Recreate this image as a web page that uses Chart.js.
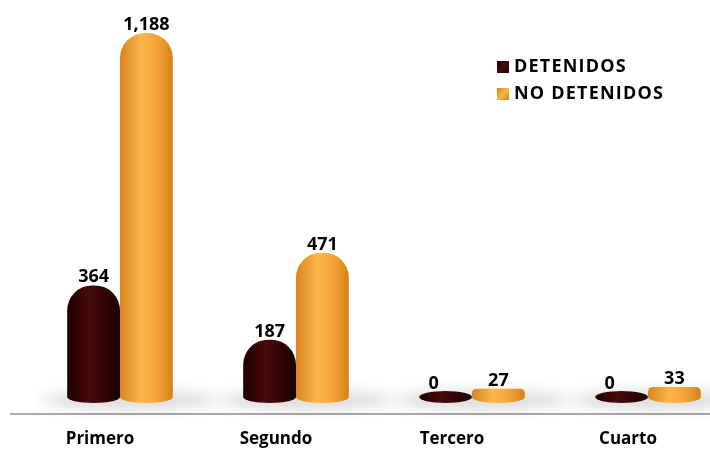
<!DOCTYPE html>
<html>
<head>
<meta charset="utf-8">
<script src="https://cdn.jsdelivr.net/npm/chart.js@4.4.1/dist/chart.umd.min.js"></script>
<style>
  html, body { margin: 0; padding: 0; background: #fff; overflow: hidden; }
  #wrap { position: relative; width: 710px; height: 449px; overflow: hidden; }
  #chart { position: absolute; left: 0; top: 0; }
  #legend { position: absolute; left: 497px; top: 52px; font: bold 18px 'Open Sans', sans-serif; letter-spacing: 1.2px; color: #000; }
  #legend div { height: 27px; line-height: 26px; white-space: nowrap; }
  #legend span.sw { display: inline-block; width: 12px; height: 12px; margin-right: 5px; vertical-align: -1px; }
</style>
</head>
<body>
<div id="wrap">
  <canvas id="chart" width="740" height="449"></canvas>
  <div id="legend"></div>
</div>
<script>
// données
const categories  = ['Primero', 'Segundo', 'Tercero', 'Cuarto'];
const detenidos   = [364, 187, 0, 0];
const noDetenidos = [1188, 471, 27, 33];
const seriesNames = ['DETENIDOS', 'NO DETENIDOS'];

const DARK   = ['#1a0101', '#470b0b', '#350606', '#1a0101'];
const ORANGE = ['#d8841c', '#fdb64a', '#f5a338', '#d38218'];
const PALETTES = [DARK, ORANGE];

const CAT_PCT = 0.6;
const FONT = "'Open Sans', sans-serif";

// dégradé horizontal pour l'effet cylindre
function cylGradient(chart, left, w, pal) {
    const g = chart.ctx.createLinearGradient(left, 0, left + w, 0);
    g.addColorStop(0, pal[0]);
    g.addColorStop(0.4, pal[1]);
    g.addColorStop(0.7, pal[2]);
    g.addColorStop(1, pal[3]);
    return g;
}

function barFill(ctx) {
    const chart = ctx.chart;
    const pal = PALETTES[ctx.datasetIndex];
    const xs = chart.scales.x;
    if (!xs || !chart.chartArea) return pal[2];
    const c = xs.getPixelForValue(ctx.dataIndex);
    const w = xs.width / categories.length * CAT_PCT / 2;
    const left = ctx.datasetIndex === 0 ? c - w : c;
    return cylGradient(chart, left, w, pal);
}

// ligne de base, ombre et base elliptique sous chaque cylindre
const cylinderBase = {
    id: 'cylinderBase',
    beforeDatasetsDraw(chart) {
        const ctx = chart.ctx;
        const xs = chart.scales.x;
        const ys = chart.scales.y;
        const y0 = ys.getPixelForValue(0);
        const catW = xs.width / categories.length;
        const area = chart.chartArea;

        ctx.save();
        ctx.strokeStyle = '#a9a9a9';
        ctx.lineWidth = 2;
        ctx.beginPath();
        ctx.moveTo(10, area.bottom);
        ctx.lineTo(area.right, area.bottom);
        ctx.stroke();

        ctx.filter = 'blur(7px)';
        ctx.fillStyle = 'rgba(0,0,0,0.15)';
        categories.forEach((_, i) => {
            const c = xs.getPixelForValue(i);
            ctx.beginPath();
            ctx.ellipse(c + 10, y0 + 3, catW * CAT_PCT / 2 + 36, 9, 0, 0, Math.PI * 2);
            ctx.fill();
        });
        ctx.restore();

        ctx.save();
        chart.data.datasets.forEach((ds, di) => {
            const meta = chart.getDatasetMeta(di);
            meta.data.forEach((bar) => {
                const w = bar.width;
                ctx.fillStyle = cylGradient(chart, bar.x - w / 2, w, PALETTES[di]);
                ctx.beginPath();
                ctx.ellipse(bar.x, bar.base, w / 2, 6, 0, 0, Math.PI * 2);
                ctx.fill();
            });
        });
        ctx.restore();
    },
};

// étiquettes de valeurs au-dessus des barres
const valueLabels = {
    id: 'valueLabels',
    afterDatasetsDraw(chart) {
        const ctx = chart.ctx;
        ctx.save();
        ctx.font = 'bold 18px ' + FONT;
        ctx.fillStyle = '#000';
        ctx.textAlign = 'center';
        ctx.textBaseline = 'alphabetic';
        chart.data.datasets.forEach((ds, di) => {
            const meta = chart.getDatasetMeta(di);
            meta.data.forEach((bar, i) => {
                const v = ds.data[i];
                const dy = v === 0 ? 8 : 3;
                const dx = v === 0 ? -12 : 0;
                ctx.fillText(v.toLocaleString('en-US'), bar.x + dx, bar.y - dy);
            });
        });
        ctx.restore();
    },
};

new Chart(document.getElementById('chart').getContext('2d'), {
    type: 'bar',
    data: {
        labels: categories,
        datasets: [
            { label: seriesNames[0], data: detenidos, backgroundColor: barFill,
              borderRadius: { topLeft: 25, topRight: 25 }, borderSkipped: 'bottom',
              categoryPercentage: CAT_PCT, barPercentage: 1.0 },
            { label: seriesNames[1], data: noDetenidos, backgroundColor: barFill,
              borderRadius: { topLeft: 25, topRight: 25 }, borderSkipped: 'bottom',
              categoryPercentage: CAT_PCT, barPercentage: 1.0 },
        ],
    },
    options: {
        responsive: false,
        animation: false,
        devicePixelRatio: 1,
        layout: { padding: { left: 32, right: 4, top: 14, bottom: 0 } },
        plugins: { legend: { display: false }, tooltip: { enabled: false } },
        scales: {
            x: {
                grid: { display: false, drawTicks: false },
                border: { display: false },
                ticks: {
                    color: '#000',
                    padding: 15,
                    labelOffset: -20,
                    font: { family: FONT, size: 17, weight: 'bold' },
                },
                afterFit(scale) { scale.height = 35; },
            },
            y: { display: false, min: -55.5, max: 1250 },
        },
    },
    plugins: [cylinderBase, valueLabels],
});

// légende HTML
const legendEl = document.getElementById('legend');
seriesNames.forEach((name, i) => {
    const pal = PALETTES[i];
    const row = document.createElement('div');
    row.innerHTML = '<span class="sw" style="background:linear-gradient(135deg,' +
        pal[0] + ',' + pal[1] + ' 50%,' + pal[3] + ')"></span>' + name;
    legendEl.appendChild(row);
});
</script>
</body>
</html>
